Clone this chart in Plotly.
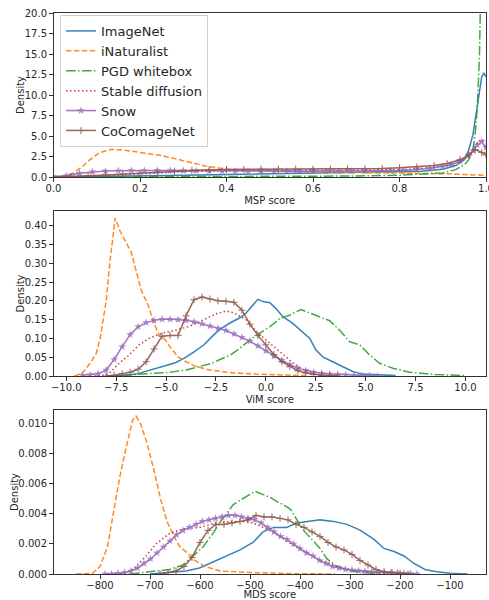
import plotly.graph_objects as go

# ---------------- data ----------------
NAMES = ["ImageNet", "iNaturalist", "PGD whitebox", "Stable diffusion", "Snow", "CoComageNet"]
COLORS = ["#1f77b4", "#ff7f0e", "#2ca02c", "#d62728", "#9467bd", "#8c564b"]

# ---- MSP score panel ----
msp_imagenet_x = [0, 0.05, 0.1, 0.2, 0.3, 0.4, 0.5, 0.6, 0.7, 0.8, 0.85, 0.9, 0.93, 0.95, 0.96, 0.97, 0.98, 0.99, 0.995, 1.0]
msp_imagenet_y = [0.0, 0.02, 0.05, 0.12, 0.2, 0.3, 0.38, 0.47, 0.52, 0.6, 0.7, 0.95, 1.4, 2.1, 3.3, 5.2, 8.8, 12.2, 12.7, 12.2]
msp_inat_x = [0, 0.02, 0.045, 0.065, 0.083, 0.106, 0.134, 0.16, 0.2, 0.25, 0.28, 0.32, 0.35, 0.4, 0.5, 0.6, 0.7, 0.8, 0.9, 0.95, 1.0]
msp_inat_y = [0.0, 0.05, 0.45, 1.2, 2.05, 2.95, 3.37, 3.3, 3.0, 2.6, 2.25, 1.75, 1.35, 0.95, 0.75, 0.62, 0.55, 0.5, 0.4, 0.3, 0.2]
msp_pgd_x = [0, 0.2, 0.4, 0.6, 0.7, 0.8, 0.85, 0.9, 0.93, 0.95, 0.96, 0.97, 0.975, 0.98, 0.985, 0.99, 0.995, 1.0]
msp_pgd_y = [0.0, 0.02, 0.05, 0.08, 0.12, 0.22, 0.32, 0.5, 0.9, 1.5, 2.1, 3.4, 5.3, 8.5, 15.0, 24.0, 40.0, 60.0]
msp_sd_x = [0, 0.05, 0.1, 0.15, 0.2, 0.25, 0.3, 0.4, 0.5, 0.6, 0.7, 0.8, 0.85, 0.9, 0.93, 0.95, 0.97, 0.98, 0.99, 1.0]
msp_sd_y = [0.0, 0.02, 0.1, 0.25, 0.4, 0.55, 0.65, 0.75, 0.78, 0.78, 0.8, 0.88, 1.05, 1.35, 1.7, 2.2, 3.3, 4.2, 4.6, 4.2]
msp_snow_x = [0.0, 0.03, 0.06, 0.09, 0.12, 0.15, 0.18, 0.21, 0.24, 0.27, 0.30, 0.33, 0.36, 0.39, 0.42, 0.45, 0.48, 0.51, 0.54, 0.57,
              0.60, 0.63, 0.66, 0.69, 0.72, 0.75, 0.78, 0.81, 0.84, 0.87, 0.90, 0.92, 0.94, 0.96, 0.97, 0.98, 0.99, 1.0]
msp_snow_y = [0.05, 0.15, 0.45, 0.62, 0.72, 0.77, 0.79, 0.8, 0.8, 0.79, 0.78, 0.76, 0.74, 0.73, 0.72, 0.71, 0.7, 0.7, 0.7, 0.7,
              0.7, 0.7, 0.7, 0.71, 0.72, 0.74, 0.76, 0.8, 0.9, 1.05, 1.3, 1.5, 1.9, 2.6, 3.2, 3.9, 4.3, 3.6]
msp_coco_x = [0.0, 0.04, 0.08, 0.12, 0.16, 0.2, 0.24, 0.28, 0.32, 0.36, 0.4, 0.44, 0.48, 0.52, 0.56, 0.6, 0.64, 0.68, 0.72, 0.76,
              0.8, 0.84, 0.88, 0.91, 0.94, 0.96, 0.975, 0.99, 1.0]
msp_coco_y = [0.0, 0.05, 0.15, 0.25, 0.35, 0.47, 0.6, 0.72, 0.82, 0.88, 0.92, 0.93, 0.94, 0.95, 0.95, 0.95, 0.96, 0.98, 1.0, 1.05,
              1.12, 1.22, 1.4, 1.65, 2.1, 2.7, 3.35, 3.0, 2.7]

# ---- ViM score panel ----
vim_imagenet_x = [-8.0, -7.0, -6.5, -6.0, -5.5, -5.0, -4.5, -4.0, -3.6, -3.1, -2.6, -2.3, -1.8, -1.3, -1.0, -0.65, -0.4, -0.15,
                  0.2, 0.5, 0.85, 1.35, 1.85, 2.2, 2.5, 2.85, 3.35, 3.85, 4.35, 4.85, 5.5, 6.5]
vim_imagenet_y = [0.0, 0.002, 0.005, 0.012, 0.02, 0.028, 0.036, 0.05, 0.064, 0.083, 0.11, 0.124, 0.141, 0.155, 0.167, 0.189, 0.204, 0.198,
                  0.195, 0.18, 0.158, 0.14, 0.118, 0.1, 0.07, 0.051, 0.038, 0.025, 0.012, 0.005, 0.003, 0.001]
vim_inat_x = [-9.6, -9.2, -8.8, -8.5, -8.3, -8.0, -7.8, -7.55, -7.3, -7.0, -6.75, -6.5, -6.25, -5.9, -5.6, -5.35, -5.1, -4.75,
              -4.4, -4.0, -3.5, -2.8, -1.8, -0.5, 1.2, 2.0]
vim_inat_y = [0.0, 0.007, 0.034, 0.06, 0.1, 0.2, 0.31, 0.42, 0.385, 0.355, 0.33, 0.28, 0.229, 0.189, 0.14, 0.108, 0.1, 0.074,
              0.051, 0.038, 0.025, 0.016, 0.009, 0.005, 0.003, 0.001]
vim_pgd_x = [-7.2, -6.0, -5.0, -4.0, -3.2, -2.7, -2.3, -1.8, -1.3, -0.8, -0.3, 0.2, 0.7, 1.2, 1.75, 2.2, 2.7, 3.2, 3.7, 4.2,
             4.7, 5.2, 5.7, 6.4, 7.2, 8.5, 10.0]
vim_pgd_y = [0.002, 0.005, 0.009, 0.016, 0.026, 0.034, 0.044, 0.055, 0.074, 0.096, 0.114, 0.131, 0.153, 0.162, 0.177, 0.168, 0.158, 0.147, 0.122, 0.091,
             0.083, 0.056, 0.034, 0.02, 0.01, 0.004, 0.001]
vim_sd_x = [-8.6, -8.2, -7.85, -7.35, -6.85, -6.35, -5.85, -5.2, -4.5, -3.8, -3.15, -2.5, -2.0, -1.6, -1.0, -0.5, 0.0, 0.5,
            1.0, 1.5, 2.0, 2.5, 3.0, 3.6]
vim_sd_y = [0.0, 0.002, 0.007, 0.034, 0.056, 0.083, 0.1, 0.114, 0.122, 0.133, 0.149, 0.165, 0.173, 0.168, 0.15, 0.12, 0.096, 0.074,
            0.051, 0.029, 0.013, 0.005, 0.002, 0.0]
vim_snow_x = [-9.2, -8.8, -8.4, -8.0, -7.6, -7.2, -6.8, -6.4, -6.0, -5.6, -5.2, -4.8, -4.4, -4.0, -3.6, -3.2, -2.8, -2.4, -2.0,
              -1.6, -1.2, -0.8, -0.4, 0.0, 0.4, 0.8, 1.2, 1.6, 2.0, 2.4, 2.8, 3.2, 3.6, 4.0, 4.4, 4.8, 5.2, 5.6]
vim_snow_y = [0.002, 0.003, 0.006, 0.016, 0.044, 0.078, 0.11, 0.131, 0.142, 0.148, 0.151, 0.151, 0.150, 0.148, 0.144, 0.139, 0.133, 0.127, 0.121,
              0.112, 0.103, 0.093, 0.08, 0.067, 0.053, 0.042, 0.03, 0.021, 0.015, 0.01, 0.007, 0.005, 0.004, 0.003, 0.002, 0.001, 0.001, 0.0]
vim_coco_x = [-8.0, -7.6, -7.2, -6.8, -6.4, -6.0, -5.6, -5.2, -4.8, -4.4, -4.0, -3.6, -3.2, -2.8, -2.4, -2.0, -1.6, -1.2,
              -0.8, -0.4, 0.0, 0.4, 0.8, 1.2, 1.6, 2.0, 2.4, 2.8, 3.2, 3.6]
vim_coco_y = [0.0, 0.002, 0.006, 0.01, 0.018, 0.038, 0.072, 0.106, 0.108, 0.108, 0.16, 0.203, 0.21, 0.205, 0.2, 0.199, 0.196, 0.175,
              0.138, 0.108, 0.083, 0.057, 0.038, 0.025, 0.014, 0.008, 0.004, 0.002, 0.001, 0.0]

# ---- MDS score panel ----
mds_imagenet_x = [-700, -661, -628, -601, -574, -547, -520, -494, -474, -453, -427, -406, -386, -360, -333, -306, -279, -252,
                  -232, -212, -192, -172, -150, -127, -100, -65]
mds_imagenet_y = [0.0, 0.0001, 0.0002, 0.0004, 0.0008, 0.0012, 0.0016, 0.0021, 0.0028, 0.0031, 0.0031, 0.0034, 0.0035, 0.0036, 0.0035, 0.0033, 0.0029, 0.0023,
                  0.0017, 0.0015, 0.0012, 0.0007, 0.0003, 0.00015, 0.00005, 0.0]
mds_inat_x = [-848, -815, -800, -785, -772, -759, -745, -735, -728, -719, -706, -692, -679, -666, -652, -640, -625, -610,
              -590, -560, -500, -430, -330]
mds_inat_y = [0.0, 0.00005, 0.0005, 0.0018, 0.0043, 0.0067, 0.0088, 0.0102, 0.0105, 0.01, 0.0087, 0.0069, 0.005, 0.0035, 0.0025, 0.0018, 0.0014, 0.0009,
              0.0005, 0.0002, 0.0001, 0.00003, 0.0]
mds_pgd_x = [-740, -695, -661, -634, -614, -594, -574, -561, -547, -534, -520, -505, -490, -475, -460, -445, -433, -419,
             -406, -393, -376, -360, -346, -326, -299, -266, -240]
mds_pgd_y = [0.0, 0.00015, 0.0003, 0.0006, 0.0012, 0.0018, 0.0027, 0.0034, 0.004, 0.0046, 0.0049, 0.0052, 0.0055, 0.0053, 0.0051, 0.0048, 0.0046, 0.0043,
             0.0036, 0.0029, 0.0023, 0.0017, 0.001, 0.0005, 0.0002, 0.0001, 0.0]
mds_sd_x = [-760, -740, -728, -708, -688, -661, -634, -601, -567, -534, -507, -487, -467, -440, -413, -386, -360, -333,
            -299, -252, -220]
mds_sd_y = [0.0, 0.0002, 0.0005, 0.0012, 0.002, 0.0027, 0.003, 0.0031, 0.0034, 0.0035, 0.0035, 0.0033, 0.003, 0.0025, 0.0019, 0.0014, 0.0009, 0.0006,
            0.00027, 0.0001, 0.0]
mds_snow_x = [-790, -777, -764, -751, -738, -725, -712, -699, -686, -673, -660, -647, -634, -621, -608, -595, -582, -569, -556,
              -543, -530, -517, -504, -491, -478, -465, -452, -439, -426, -413, -400, -387, -374, -361, -348, -335, -322, -309,
              -296, -283, -270, -257, -244, -231, -218, -205, -192, -179, -166]
mds_snow_y = [0.0, 0.0, 0.00005, 0.0001, 0.0002, 0.0004, 0.0007, 0.001, 0.0014, 0.0018, 0.0022, 0.0026, 0.0029, 0.0031, 0.0033, 0.0035, 0.0036, 0.0037, 0.0038,
              0.0039, 0.0039, 0.0038, 0.0037, 0.0036, 0.0034, 0.0031, 0.0028, 0.0025, 0.0023, 0.002, 0.0017, 0.0014, 0.0012, 0.0009, 0.0007, 0.0005, 0.0004, 0.0003,
              0.00027, 0.00022, 0.00018, 0.00015, 0.00012, 0.0001, 0.0001, 0.00008, 0.00005, 0.00003, 0.0]
mds_coco_x = [-680, -664, -648, -632, -616, -600, -584, -568, -552, -536, -520, -504, -488, -472, -456, -440, -424, -408,
              -392, -376, -360, -344, -328, -312, -296, -280, -264, -248, -232, -216, -200, -184]
mds_coco_y = [0.0, 0.0001, 0.0002, 0.0005, 0.0011, 0.0021, 0.0029, 0.0033, 0.0033, 0.0034, 0.0035, 0.0036, 0.0039, 0.0038, 0.0038, 0.0037, 0.0036, 0.0033,
              0.0031, 0.0028, 0.0025, 0.0021, 0.0018, 0.0016, 0.0013, 0.0009, 0.0006, 0.0003, 0.00015, 0.0001, 0.00005, 0.0]

PANELS = [
    ("MSP score", [(msp_imagenet_x, msp_imagenet_y), (msp_inat_x, msp_inat_y), (msp_pgd_x, msp_pgd_y),
                   (msp_sd_x, msp_sd_y), (msp_snow_x, msp_snow_y), (msp_coco_x, msp_coco_y)]),
    ("ViM score", [(vim_imagenet_x, vim_imagenet_y), (vim_inat_x, vim_inat_y), (vim_pgd_x, vim_pgd_y),
                   (vim_sd_x, vim_sd_y), (vim_snow_x, vim_snow_y), (vim_coco_x, vim_coco_y)]),
    ("MDS score", [(mds_imagenet_x, mds_imagenet_y), (mds_inat_x, mds_inat_y), (mds_pgd_x, mds_pgd_y),
                   (mds_sd_x, mds_sd_y), (mds_snow_x, mds_snow_y), (mds_coco_x, mds_coco_y)]),
]
Y_LABEL = "Density"

# ---------------- styling ----------------
W, H = 489, 600
DASHES = ["solid", "5.5px,2.4px", "9.6px,2.4px,1.5px,2.4px", "1.5px,2.5px", "solid", "solid"]
FONT = "DejaVu Sans"
TXT = "#262626"

# pixel boxes of the three axes (left, right, top, bottom)
BOXES = [(53.5, 486, 13, 177), (53.5, 486, 211, 376), (53.5, 486, 410, 574)]
YLABEL_X = [20, 20, 15]
XRANGES = [[0, 1], [-10.64, 11.03], [-893, -28]]
YRANGES = [[0, 20], [0, 0.439], [0, 0.01091]]
XTICKS = [[0, 0.2, 0.4, 0.6, 0.8, 1.0],
          [-10, -7.5, -5, -2.5, 0, 2.5, 5, 7.5, 10],
          [-800, -700, -600, -500, -400, -300, -200, -100]]
XFMT = [".1f", ".1f", "d"]
YTICKS = [[0, 2.5, 5, 7.5, 10, 12.5, 15, 17.5, 20],
          [0, 0.05, 0.1, 0.15, 0.2, 0.25, 0.3, 0.35, 0.4],
          [0, 0.002, 0.004, 0.006, 0.008, 0.010]]
YFMT = [".1f", ".2f", ".3f"]

fig = go.Figure()
for p, (xlabel, series) in enumerate(PANELS):
    xa = "x" if p == 0 else f"x{p+1}"
    ya = "y" if p == 0 else f"y{p+1}"
    for k, (xs, ys) in enumerate(series):
        tr = dict(x=xs, y=ys, name=NAMES[k], xaxis=xa, yaxis=ya,
                  legendgroup=NAMES[k], showlegend=(p == 0),
                  line=dict(color=COLORS[k], width=1.5, dash=DASHES[k]),
                  mode="lines", opacity=0.9)
        if k == 4:
            tr["mode"] = "lines+markers"
            tr["marker"] = dict(symbol="star", size=6, color=COLORS[k], opacity=0.85)
        if k == 5:
            tr["mode"] = "lines+markers"
            tr["marker"] = dict(symbol="cross-thin", size=5, color=COLORS[k],
                                line=dict(color=COLORS[k], width=1))
        fig.add_trace(go.Scatter(**tr))

annotations = []
layout = dict(width=W, height=H, margin=dict(l=0, r=0, t=0, b=0),
              paper_bgcolor="white", plot_bgcolor="white",
              font=dict(family=FONT, size=10, color=TXT),
              legend=dict(x=60 / W, y=1 - 15 / H, xanchor="left", yanchor="top",
                          bgcolor="rgba(255,255,255,0.9)", bordercolor="#d0d0d0", borderwidth=1,
                          font=dict(family=FONT, size=13, color=TXT),
                          itemwidth=30, tracegroupgap=0),
              showlegend=True)
for p in range(3):
    l, r, t, b = BOXES[p]
    xk = "xaxis" if p == 0 else f"xaxis{p+1}"
    yk = "yaxis" if p == 0 else f"yaxis{p+1}"
    xa = "x" if p == 0 else f"x{p+1}"
    ya = "y" if p == 0 else f"y{p+1}"
    common = dict(showline=True, linecolor="#333333", linewidth=1, mirror=True,
                  ticks="outside", ticklen=3.5, tickwidth=0.8, tickcolor="#333333",
                  showgrid=False, zeroline=False, tickfont=dict(family=FONT, size=10, color=TXT),
                  automargin=False, ticklabeloverflow="allow")
    layout[xk] = dict(domain=[l / W, r / W], anchor=ya, range=XRANGES[p],
                      tickmode="array", tickvals=XTICKS[p], ticklabelstandoff=-2,
                      ticktext=[format(v, XFMT[p]).replace("-", "\u2212") for v in XTICKS[p]],
                      title=dict(text=PANELS[p][0], font=dict(size=10, color=TXT), standoff=4), **common)
    layout[yk] = dict(domain=[1 - b / H, 1 - t / H], anchor=xa, range=YRANGES[p],
                      tickmode="array", tickvals=YTICKS[p],
                      ticktext=[format(v, YFMT[p]) for v in YTICKS[p]], **common)
    annotations.append(dict(text=Y_LABEL, textangle=-90, xref="paper", yref="paper",
                            x=YLABEL_X[p] / W, y=1 - (t + b) / 2 / H, xanchor="center", yanchor="middle",
                            showarrow=False, font=dict(family=FONT, size=10, color=TXT)))
layout["annotations"] = annotations
fig.update_layout(**layout)
fig.write_html("out.html", config={"displayModeBar": False},
               post_script="document.body.style.margin='0px';document.body.style.overflow='hidden';")
